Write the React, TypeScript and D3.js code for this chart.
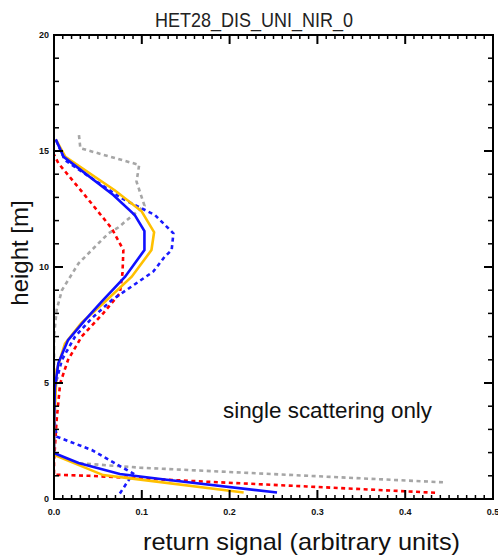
import React, { useEffect, useRef } from "react";
import * as d3 from "d3";

// [return signal, height] pairs
const blueSolid: [number, number][] = [
  [0.254, 0.28], [0.126, 0.84], [0.075, 1.08], [0.028, 1.55], [0.0, 1.98], [0.0, 3.0],
  [0.001, 4.8], [0.005, 5.86], [0.016, 6.85], [0.035, 7.7], [0.054, 8.5], [0.081, 9.58],
  [0.103, 10.73], [0.103, 11.55], [0.092, 12.24], [0.0675, 13.1], [0.011, 14.75], [0.002, 15.5],
];
const orangeSolid: [number, number][] = [
  [0.216, 0.28], [0.087, 0.89], [0.056, 1.03], [0.0, 1.9], [0.0, 3.0], [0.003, 5.56],
  [0.0125, 6.7], [0.0315, 7.6], [0.058, 8.5], [0.0885, 9.58], [0.111, 10.73], [0.114, 11.5],
  [0.0998, 12.4], [0.0695, 13.3], [0.013, 14.75], [0.002, 15.5],
];
const blueDotted: [number, number][] = [
  [0.075, 0.24], [0.09, 1.1], [0.043, 2.11], [0.003, 2.69], [0.0, 3.5], [0.001, 4.84],
  [0.009, 6.0], [0.024, 7.0], [0.043, 7.79], [0.066, 8.58], [0.113, 9.8], [0.126, 10.44],
  [0.134, 10.73], [0.136, 11.45], [0.115, 12.24], [0.077, 12.96], [0.0125, 14.6], [0.002, 15.5],
];
const redDotted: [number, number][] = [
  [0.434, 0.27], [0.288, 0.54], [0.155, 0.78], [0.04, 1.0], [0.0, 1.05], [0.0, 1.6],
  [0.003, 3.4], [0.007, 4.98], [0.016, 6.0], [0.0315, 7.0], [0.056, 8.0], [0.075, 8.87],
  [0.078, 9.73], [0.079, 10.73], [0.066, 11.65], [0.035, 13.1], [0.005, 14.47], [0.0, 14.85],
];
const grayDotted: [number, number][] = [
  [0.443, 0.72], [0.098, 1.35], [0.026, 1.55], [0.0, 1.95], [0.0, 4.0], [0.0, 7.0],
  [0.003, 8.15], [0.009, 9.0], [0.028, 10.16], [0.062, 11.45], [0.073, 11.7], [0.103, 12.65],
  [0.094, 13.68], [0.097, 14.4], [0.03, 15.12], [0.028, 15.83],
];

const xTicks = [0, 0.1, 0.2, 0.3, 0.4, 0.5];
const xTickLabels = ["0.0", "0.1", "0.2", "0.3", "0.4", "0.5"];
const yTicks = [0, 5, 10, 15, 20];

const series = [
  { data: grayDotted, color: "#a6a6a6", dash: "4,3.5" },
  { data: redDotted, color: "#ff0000", dash: "4,3.5" },
  { data: blueDotted, color: "#1a1aff", dash: "4,3.5" },
  { data: orangeSolid, color: "#ffc000", dash: null },
  { data: blueSolid, color: "#1010ff", dash: null },
];

const FONT = "Liberation Sans, Arial, sans-serif";

export default function App() {
  const ref = useRef<SVGSVGElement>(null);

  useEffect(() => {
    const svg = d3.select(ref.current);
    svg.selectAll("*").remove();

    const left = 54, right = 493, top = 35, bottom = 499;
    const x = d3.scaleLinear().domain([0, 0.5]).range([left, right]);
    const y = d3.scaleLinear().domain([0, 20]).range([bottom, top]);

    svg.append("rect").attr("width", 498).attr("height", 557).attr("fill", "#fff");

    svg.append("text")
      .attr("x", 155).attr("y", 27)
      .attr("font-family", FONT)
      .attr("font-size", 21)
      .attr("textLength", 198)
      .attr("lengthAdjust", "spacingAndGlyphs")
      .attr("fill", "#222")
      .text("HET28_DIS_UNI_NIR_0");

    const clip = svg.append("clipPath").attr("id", "plotclip");
    clip.append("rect").attr("x", left).attr("y", top).attr("width", right - left).attr("height", bottom - top);

    const line = d3.line<[number, number]>()
      .x(d => x(d[0]))
      .y(d => y(d[1]));

    const g = svg.append("g").attr("clip-path", "url(#plotclip)");
    series.forEach(s => {
      g.append("path")
        .datum(s.data)
        .attr("fill", "none")
        .attr("stroke", s.color)
        .attr("stroke-width", 2.6)
        .attr("stroke-dasharray", s.dash)
        .attr("d", line);
    });

    // frame
    svg.append("rect")
      .attr("x", left).attr("y", top)
      .attr("width", right - left).attr("height", bottom - top)
      .attr("fill", "none").attr("stroke", "#000").attr("stroke-width", 2);

    const ticks = svg.append("g").attr("stroke", "#000");
    d3.range(0, 0.5001, 0.01).forEach((v, i) => {
      const len = i % 10 === 0 ? 9 : 4;
      const w = i % 10 === 0 ? 2 : 1.5;
      ticks.append("line").attr("x1", x(v)).attr("x2", x(v)).attr("y1", bottom).attr("y2", bottom - len).attr("stroke-width", w);
      ticks.append("line").attr("x1", x(v)).attr("x2", x(v)).attr("y1", top).attr("y2", top + len).attr("stroke-width", w);
    });
    d3.range(0, 20.001, 1).forEach((v, i) => {
      const len = i % 5 === 0 ? 9 : 5;
      const w = i % 5 === 0 ? 2 : 1.5;
      ticks.append("line").attr("y1", y(v)).attr("y2", y(v)).attr("x1", left).attr("x2", left + len).attr("stroke-width", w);
      ticks.append("line").attr("y1", y(v)).attr("y2", y(v)).attr("x1", right).attr("x2", right - len).attr("stroke-width", w);
    });

    xTicks.forEach((v, i) => {
      svg.append("text")
        .attr("x", x(v)).attr("y", 515)
        .attr("text-anchor", "middle")
        .attr("font-family", FONT)
        .attr("font-size", 9).attr("font-weight", "bold")
        .attr("fill", "#111")
        .text(xTickLabels[i]);
    });
    yTicks.forEach(v => {
      svg.append("text")
        .attr("x", left - 5).attr("y", y(v) + 3)
        .attr("text-anchor", "end")
        .attr("font-family", FONT)
        .attr("font-size", 9).attr("font-weight", "bold")
        .attr("fill", "#111")
        .text(String(v));
    });

    svg.append("text")
      .attr("x", 143).attr("y", 550)
      .attr("font-family", FONT)
      .attr("font-size", 24)
      .attr("textLength", 317)
      .attr("lengthAdjust", "spacingAndGlyphs")
      .attr("fill", "#111")
      .text("return signal (arbitrary units)");

    svg.append("text")
      .attr("transform", "translate(28,253) rotate(-90)")
      .attr("text-anchor", "middle")
      .attr("font-family", FONT)
      .attr("font-size", 24)
      .attr("fill", "#111")
      .text("height [m]");

    svg.append("text")
      .attr("x", 223).attr("y", 418)
      .attr("font-family", FONT)
      .attr("font-size", 22)
      .attr("textLength", 209)
      .attr("lengthAdjust", "spacingAndGlyphs")
      .attr("fill", "#111")
      .text("single scattering only");
  }, []);

  return (
    <svg
      ref={ref}
      width={498}
      height={557}
      style={{ position: "absolute", left: 0, top: 0 }}
    />
  );
}
